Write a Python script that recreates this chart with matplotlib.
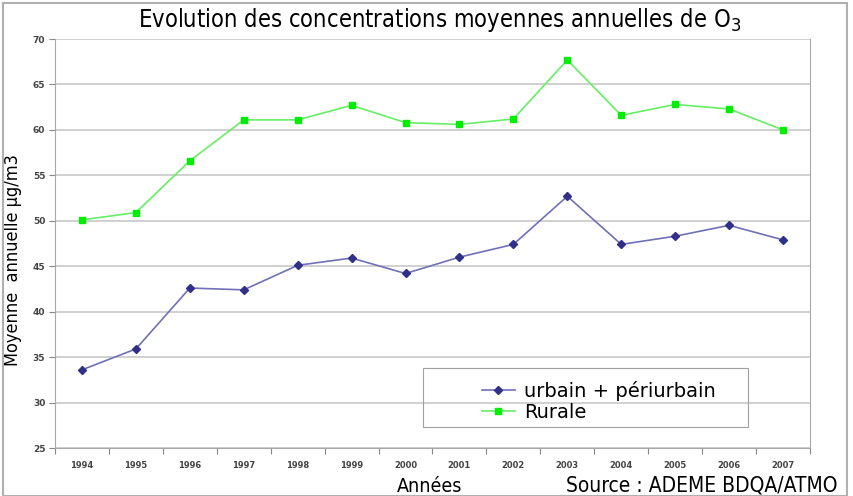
import numpy as np
import matplotlib.pyplot as plt
from matplotlib.patches import Rectangle

# data
years = ['1994', '1995', '1996', '1997', '1998', '1999', '2000',
         '2001', '2002', '2003', '2004', '2005', '2006', '2007']
urbain = [33.6, 35.9, 42.6, 42.4, 45.1, 45.9, 44.2,
          46.0, 47.4, 52.7, 47.4, 48.3, 49.5, 47.9]
rurale = [50.1, 50.9, 56.6, 61.1, 61.1, 62.7, 60.8,
          60.6, 61.2, 67.7, 61.6, 62.8, 62.3, 60.0]
yticks = [25, 30, 35, 40, 45, 50, 55, 60, 65, 70]

fig = plt.figure(figsize=(8.54, 4.96), dpi=100)
ax = fig.add_axes([55 / 854, 1 - 448 / 496, 755 / 854, 409 / 496])

x = np.arange(len(years))
ax.plot(x, urbain, color='#7070b8', lw=1.2, marker='D', ms=4,
        mfc='#30308a', mec='#30308a', label='urbain + périurbain')
ax.plot(x, rurale, color='#66ee66', lw=1.2, marker='s', ms=4.5,
        mfc='#00ee00', mec='#00ee00', label='Rurale')

ax.set_xlim(-0.5, len(years) - 0.5)
ax.set_ylim(25, 70)
ax.set_yticks(yticks)
ax.set_yticklabels([str(v) for v in yticks], fontsize=6.5, fontweight='bold',
                   color='#444444')
ax.tick_params(axis='y', length=4, color='#888888', pad=3)
ax.grid(axis='y', color='#c8c8c8', lw=1.2)
ax.set_axisbelow(True)

ax.set_xticks(np.arange(-0.5, len(years), 1.0))
ax.set_xticklabels([])
ax.tick_params(axis='x', which='major', length=4, color='#888888')
ax.set_xticks(x, minor=True)
ax.set_xticklabels(years, minor=True, fontsize=6, fontweight='bold',
                   color='#444444')
ax.tick_params(axis='x', which='minor', length=0, pad=9)

for s in ['top', 'right', 'left', 'bottom']:
    ax.spines[s].set_color('#a8a8a8')
ax.spines['top'].set_visible(False)

ax.set_ylabel('Moyenne  annuelle µg/m3', fontsize=13, fontstretch='condensed')
ax.yaxis.set_label_coords(-33 / 755, (448 - 260) / 409)

fig.text(440 / 854, 1 - 20 / 496, 'Evolution des concentrations moyennes annuelles de O$_3$',
         ha='center', va='center', fontsize=17, fontstretch='condensed')
fig.text(430 / 854, 1 - 492 / 496, 'Années', ha='center', va='baseline',
         fontsize=14, fontstretch='condensed')
fig.text(838 / 854, 1 - 492 / 496, 'Source : ADEME BDQA/ATMO', ha='right',
         va='baseline', fontsize=15, fontstretch='condensed')

# legend box drawn separately, entries start further right
ax.add_patch(Rectangle(((423 - 55) / 755, (448 - 427) / 409), 325 / 755, 59 / 409,
                       transform=ax.transAxes, fill=False, edgecolor='#a0a0a0', lw=0.8))
leg = ax.legend(loc='upper left', bbox_to_anchor=((468 - 55) / 755, (448 - 367) / 409),
                frameon=False, fontsize=14, handlelength=1.7, handletextpad=0.5,
                borderpad=0.2, labelspacing=0.1)

fig.patches.append(Rectangle((3 / 854, 0), 844 / 854, 1 - 3 / 496, transform=fig.transFigure,
                             fill=False, edgecolor='#b0b0b0', lw=1.5))

fig.savefig('out.png', dpi=100)
